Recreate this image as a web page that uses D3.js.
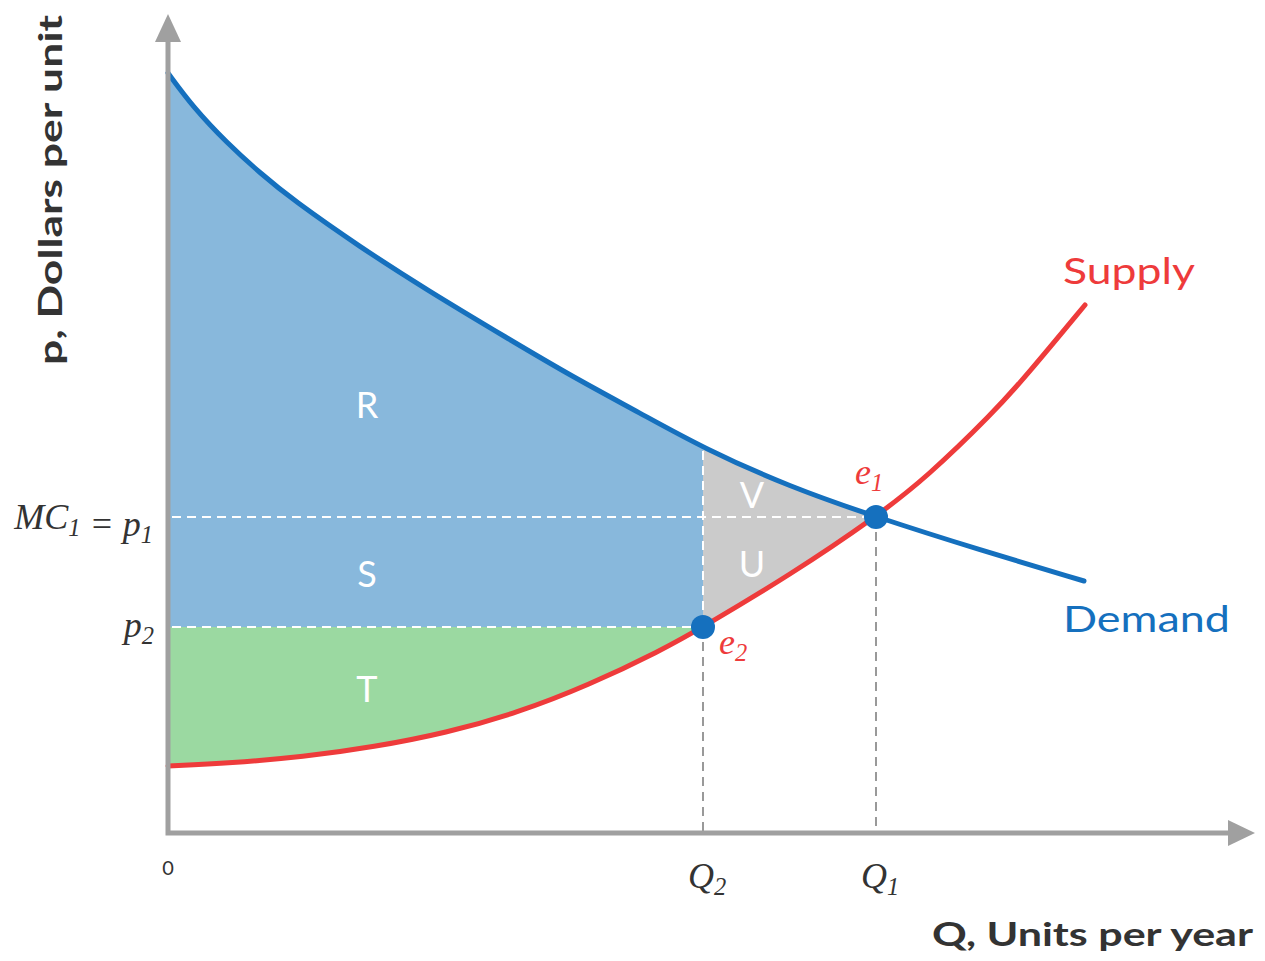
<!DOCTYPE html>
<html><head><meta charset="utf-8">
<script src="https://cdn.jsdelivr.net/npm/d3@7"></script>
<style>body{margin:0;background:#fff}</style>
</head><body>
<svg id="c" width="1265" height="961"></svg>
<script>
// ---- data ----
const demandQ = [0, 2.5, 5.9, 9.2, 12.5, 19.2, 25.9, 33.9, 40.5, 47.2, 53.5, 62.2, 70.8, 81.2, 91.6];
const demandP = [76.0, 72.6, 69.0, 66.0, 63.3, 58.6, 54.3, 49.5, 45.6, 42.0, 38.5, 34.6, 31.6, 28.3, 25.2];
const supplyQ = [0, 6.3, 13.5, 20.6, 27.8, 34.9, 42.1, 49.2, 53.5, 62.2, 70.8, 75.9, 82.5, 85.9, 91.7];
const supplyP = [6.7, 7.0, 7.6, 8.6, 10.0, 12.0, 14.8, 18.2, 20.6, 25.8, 31.6, 35.6, 42.0, 45.8, 52.8];
const Q2 = 53.5, Q1 = 70.8, p1 = 31.6, p2 = 20.6;
const xTickValues = [0, Q2, Q1];
const xTickLabels = ["0", "Q|2", "Q|1"];
const areaNames = ["R", "S", "T", "V", "U"];
const areaLabelQ = [19.9, 19.9, 19.9, 58.4, 58.4];
const areaLabelP = [42.9, 26.0, 14.5, 33.9, 27.0];

const svg = d3.select("#c");
const x = d3.scaleLinear().domain([0, 100]).range([168, 1168]);
const y = d3.scaleLinear().domain([0, 80]).range([833, 33]);

const demand = demandQ.map((q, i) => ({q, p: demandP[i]}));
const supply = supplyQ.map((q, i) => ({q, p: supplyP[i]}));
const curve = d3.curveBasis;

const defs = svg.append("defs");
defs.append("clipPath").attr("id", "leftClip").append("rect")
  .attr("x", x(0)).attr("y", 0).attr("width", x(Q2) - x(0)).attr("height", 961);
defs.append("clipPath").attr("id", "midClip").append("rect")
  .attr("x", x(Q2)).attr("y", 0).attr("width", x(Q1) - x(Q2)).attr("height", 961);
defs.append("clipPath").attr("id", "underDemand").append("path")
  .attr("d", d3.area().x(d => x(d.q)).y0(y(0)).y1(d => y(d.p)).curve(curve)(demand));

const BLUE_FILL = "#88b8dc", GREEN_FILL = "#9bd9a1", GRAY_FILL = "#cbcbcb";
const DEMAND = "#1570be", SUPPLY = "#ee3b3b", AXIS = "#a0a0a0";

// blue: R + S
svg.append("path").attr("clip-path", "url(#leftClip)")
  .attr("d", d3.area().x(d => x(d.q)).y0(y(p2)).y1(d => y(d.p)).curve(curve)(demand))
  .attr("fill", BLUE_FILL);
// green: T
svg.append("path").attr("clip-path", "url(#leftClip)")
  .attr("d", d3.area().x(d => x(d.q)).y0(y(p2)).y1(d => y(d.p)).curve(curve)(supply))
  .attr("fill", GREEN_FILL);
// gray: V + U
svg.append("g").attr("clip-path", "url(#midClip)")
  .append("path").attr("clip-path", "url(#underDemand)")
  .attr("d", d3.area().x(d => x(d.q)).y0(0).y1(d => y(d.p)).curve(curve)(supply))
  .attr("fill", GRAY_FILL);

// dashed guide lines
const white = {stroke: "#fff", "stroke-width": 2, "stroke-dasharray": "9,6"};
function seg(x1, y1, x2, y2, st) {
  const l = svg.append("line").attr("x1", x1).attr("y1", y1).attr("x2", x2).attr("y2", y2);
  Object.entries(st).forEach(([k, v]) => l.attr(k, v));
}
seg(x(0) + 4, y(p1), x(Q1), y(p1), white);
seg(x(0) + 4, y(p2), x(Q2), y(p2), white);
const demandAtQ2 = demandP[demandQ.indexOf(Q2)];
seg(x(Q2), y(demandAtQ2) + 3, x(Q2), y(p2), white);
const gray = {stroke: "#999", "stroke-width": 2, "stroke-dasharray": "9,6"};
seg(x(Q2), y(p2), x(Q2), y(0), gray);
seg(x(Q1), y(p1), x(Q1), y(0), gray);

// area labels
svg.append("g").selectAll("text").data(areaNames).join("text")
  .attr("x", (d, i) => x(areaLabelQ[i])).attr("y", (d, i) => y(areaLabelP[i]))
  .attr("text-anchor", "middle").attr("dominant-baseline", "central")
  .attr("fill", "#fff").attr("font-family", "Lato, 'Open Sans', sans-serif")
  .attr("font-size", 36).text(d => d);

// curves
svg.append("path").attr("d", d3.line().x(d => x(d.q)).y(d => y(d.p)).curve(curve)(demand))
  .attr("fill", "none").attr("stroke", DEMAND).attr("stroke-width", 5).attr("stroke-linecap", "round");
svg.append("path").attr("d", d3.line().x(d => x(d.q)).y(d => y(d.p)).curve(curve)(supply))
  .attr("fill", "none").attr("stroke", SUPPLY).attr("stroke-width", 5).attr("stroke-linecap", "round");

// axes
const axisTop = 40, axisRight = 1230;
svg.append("path").attr("d", `M${x(0)},${axisTop} V${y(0)} H${axisRight}`)
  .attr("fill", "none").attr("stroke", AXIS).attr("stroke-width", 5);
svg.append("path").attr("d", `M${x(0)},14 L${x(0) - 13},${axisTop + 2} L${x(0) + 13},${axisTop + 2} Z`).attr("fill", AXIS);
svg.append("path").attr("d", `M1255,${y(0)} L${axisRight - 2},${y(0) - 13} L${axisRight - 2},${y(0) + 13} Z`).attr("fill", AXIS);

// equilibrium points
svg.append("circle").attr("cx", x(Q1)).attr("cy", y(p1)).attr("r", 12).attr("fill", DEMAND);
svg.append("circle").attr("cx", x(Q2)).attr("cy", y(p2)).attr("r", 12).attr("fill", DEMAND);

// math-style labels
const serif = "'Liberation Serif', 'DejaVu Serif', serif";
function mathLabel(px, py, parts, anchor, color, size) {
  const t = svg.append("text").attr("x", px).attr("y", py).attr("text-anchor", anchor)
    .attr("font-family", serif).attr("font-style", "italic").attr("font-size", size).attr("fill", color);
  parts.forEach(([s, sub]) => {
    if (sub) {
      t.append("tspan").attr("dy", size * 0.2).attr("font-size", size * 0.68).text(s);
      t.append("tspan").attr("dy", -size * 0.2).text("");
    } else {
      t.append("tspan").text(s);
    }
  });
  return t;
}
// x tick labels
xTickLabels.forEach((lab, i) => {
  if (lab.includes("|")) {
    const [a, b] = lab.split("|");
    mathLabel(x(xTickValues[i]) + 4, 888, [[a, false], [b, true]], "middle", "#333", 36);
  } else {
    svg.append("text").attr("x", x(xTickValues[i])).attr("y", 875).attr("text-anchor", "middle")
      .attr("font-family", "Lato, sans-serif").attr("font-size", 20).attr("fill", "#333").text(lab);
  }
});
mathLabel(153, y(p1) + 12, [["MC", false], ["1", true], [" = p", false], ["1", true]], "end", "#333", 36);
mathLabel(154, y(p2) + 10, [["p", false], ["2", true]], "end", "#333", 36);
mathLabel(855, 484, [["e", false], ["1", true]], "start", SUPPLY, 36);
mathLabel(719, 654, [["e", false], ["2", true]], "start", SUPPLY, 36);

// series labels
const sans = "Lato, 'Open Sans', sans-serif";
svg.append("text").attr("x", 1063).attr("y", 284).attr("font-family", sans).attr("font-size", 36)
  .attr("fill", SUPPLY).attr("textLength", 132).attr("lengthAdjust", "spacingAndGlyphs").text("Supply");
svg.append("text").attr("x", 1063).attr("y", 632).attr("font-family", sans).attr("font-size", 36)
  .attr("fill", DEMAND).attr("textLength", 167).attr("lengthAdjust", "spacingAndGlyphs").text("Demand");

// axis titles
svg.append("text").attr("transform", "translate(62,190) rotate(-90)").attr("text-anchor", "middle")
  .attr("font-family", sans).attr("font-weight", "bold").attr("font-size", 33).attr("fill", "#333")
  .attr("textLength", 350).attr("lengthAdjust", "spacingAndGlyphs").text("p, Dollars per unit");
svg.append("text").attr("x", 1253).attr("y", 946).attr("text-anchor", "end")
  .attr("font-family", sans).attr("font-weight", "bold").attr("font-size", 33).attr("fill", "#333")
  .attr("textLength", 321).attr("lengthAdjust", "spacingAndGlyphs").text("Q, Units per year");
</script>
</body></html>
